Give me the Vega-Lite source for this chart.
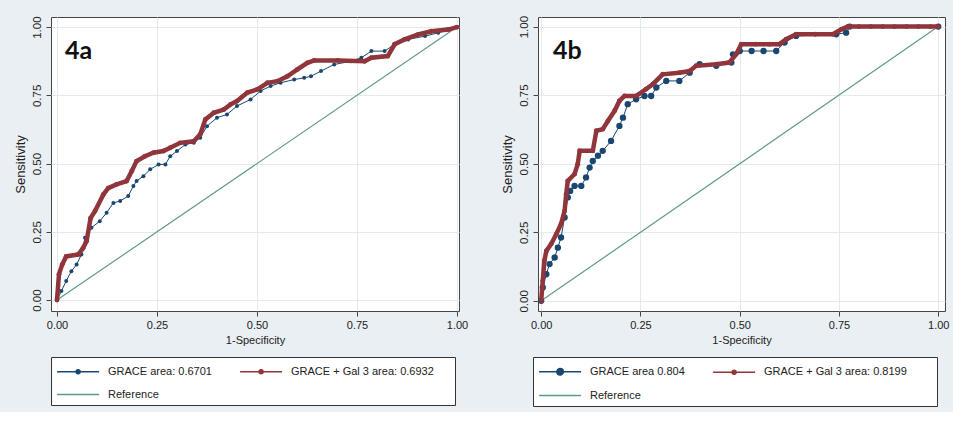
{
  "$schema": "https://vega.github.io/schema/vega-lite/v6.json",
  "background": "#e9eff2",
  "padding": {"left": 13, "top": 14, "right": 5, "bottom": 5},
  "bounds": "flush",
  "spacing": 79,
  "datasets": {
    "a": [
      {"series": "Reference", "fpr": 0, "sens": 0},
      {"series": "Reference", "fpr": 1, "sens": 1},
      {"series": "GRACE area: 0.6701", "fpr": 0, "sens": 0},
      {"series": "GRACE area: 0.6701", "fpr": 0.011, "sens": 0.033},
      {"series": "GRACE area: 0.6701", "fpr": 0.023, "sens": 0.07},
      {"series": "GRACE area: 0.6701", "fpr": 0.036, "sens": 0.106},
      {"series": "GRACE area: 0.6701", "fpr": 0.049, "sens": 0.13},
      {"series": "GRACE area: 0.6701", "fpr": 0.061, "sens": 0.167},
      {"series": "GRACE area: 0.6701", "fpr": 0.07, "sens": 0.228},
      {"series": "GRACE area: 0.6701", "fpr": 0.086, "sens": 0.265},
      {"series": "GRACE area: 0.6701", "fpr": 0.107, "sens": 0.289},
      {"series": "GRACE area: 0.6701", "fpr": 0.124, "sens": 0.32},
      {"series": "GRACE area: 0.6701", "fpr": 0.141, "sens": 0.356},
      {"series": "GRACE area: 0.6701", "fpr": 0.158, "sens": 0.363},
      {"series": "GRACE area: 0.6701", "fpr": 0.178, "sens": 0.381},
      {"series": "GRACE area: 0.6701", "fpr": 0.191, "sens": 0.418},
      {"series": "GRACE area: 0.6701", "fpr": 0.199, "sens": 0.436},
      {"series": "GRACE area: 0.6701", "fpr": 0.216, "sens": 0.454},
      {"series": "GRACE area: 0.6701", "fpr": 0.233, "sens": 0.479},
      {"series": "GRACE area: 0.6701", "fpr": 0.254, "sens": 0.497},
      {"series": "GRACE area: 0.6701", "fpr": 0.271, "sens": 0.497},
      {"series": "GRACE area: 0.6701", "fpr": 0.283, "sens": 0.527},
      {"series": "GRACE area: 0.6701", "fpr": 0.3, "sens": 0.546},
      {"series": "GRACE area: 0.6701", "fpr": 0.321, "sens": 0.57},
      {"series": "GRACE area: 0.6701", "fpr": 0.342, "sens": 0.576},
      {"series": "GRACE area: 0.6701", "fpr": 0.358, "sens": 0.595},
      {"series": "GRACE area: 0.6701", "fpr": 0.375, "sens": 0.637},
      {"series": "GRACE area: 0.6701", "fpr": 0.4, "sens": 0.668},
      {"series": "GRACE area: 0.6701", "fpr": 0.425, "sens": 0.68},
      {"series": "GRACE area: 0.6701", "fpr": 0.45, "sens": 0.711},
      {"series": "GRACE area: 0.6701", "fpr": 0.484, "sens": 0.735},
      {"series": "GRACE area: 0.6701", "fpr": 0.509, "sens": 0.766},
      {"series": "GRACE area: 0.6701", "fpr": 0.534, "sens": 0.784},
      {"series": "GRACE area: 0.6701", "fpr": 0.559, "sens": 0.796},
      {"series": "GRACE area: 0.6701", "fpr": 0.593, "sens": 0.808},
      {"series": "GRACE area: 0.6701", "fpr": 0.618, "sens": 0.814},
      {"series": "GRACE area: 0.6701", "fpr": 0.635, "sens": 0.82},
      {"series": "GRACE area: 0.6701", "fpr": 0.66, "sens": 0.839},
      {"series": "GRACE area: 0.6701", "fpr": 0.693, "sens": 0.863},
      {"series": "GRACE area: 0.6701", "fpr": 0.735, "sens": 0.875},
      {"series": "GRACE area: 0.6701", "fpr": 0.761, "sens": 0.888},
      {"series": "GRACE area: 0.6701", "fpr": 0.786, "sens": 0.912},
      {"series": "GRACE area: 0.6701", "fpr": 0.819, "sens": 0.912},
      {"series": "GRACE area: 0.6701", "fpr": 0.844, "sens": 0.937},
      {"series": "GRACE area: 0.6701", "fpr": 0.878, "sens": 0.955},
      {"series": "GRACE area: 0.6701", "fpr": 0.92, "sens": 0.967},
      {"series": "GRACE area: 0.6701", "fpr": 0.953, "sens": 0.979},
      {"series": "GRACE area: 0.6701", "fpr": 1, "sens": 1},
      {"series": "GRACE + Gal 3 area: 0.6932", "fpr": 0, "sens": 0},
      {"series": "GRACE + Gal 3 area: 0.6932", "fpr": 0.005, "sens": 0.095},
      {"series": "GRACE + Gal 3 area: 0.6932", "fpr": 0.013, "sens": 0.13},
      {"series": "GRACE + Gal 3 area: 0.6932", "fpr": 0.023, "sens": 0.16},
      {"series": "GRACE + Gal 3 area: 0.6932", "fpr": 0.053, "sens": 0.167},
      {"series": "GRACE + Gal 3 area: 0.6932", "fpr": 0.065, "sens": 0.19},
      {"series": "GRACE + Gal 3 area: 0.6932", "fpr": 0.074, "sens": 0.216},
      {"series": "GRACE + Gal 3 area: 0.6932", "fpr": 0.084, "sens": 0.3},
      {"series": "GRACE + Gal 3 area: 0.6932", "fpr": 0.095, "sens": 0.326},
      {"series": "GRACE + Gal 3 area: 0.6932", "fpr": 0.116, "sens": 0.387},
      {"series": "GRACE + Gal 3 area: 0.6932", "fpr": 0.128, "sens": 0.41},
      {"series": "GRACE + Gal 3 area: 0.6932", "fpr": 0.149, "sens": 0.424},
      {"series": "GRACE + Gal 3 area: 0.6932", "fpr": 0.174, "sens": 0.436},
      {"series": "GRACE + Gal 3 area: 0.6932", "fpr": 0.187, "sens": 0.473},
      {"series": "GRACE + Gal 3 area: 0.6932", "fpr": 0.199, "sens": 0.509},
      {"series": "GRACE + Gal 3 area: 0.6932", "fpr": 0.22, "sens": 0.527},
      {"series": "GRACE + Gal 3 area: 0.6932", "fpr": 0.241, "sens": 0.54},
      {"series": "GRACE + Gal 3 area: 0.6932", "fpr": 0.266, "sens": 0.546},
      {"series": "GRACE + Gal 3 area: 0.6932", "fpr": 0.283, "sens": 0.558},
      {"series": "GRACE + Gal 3 area: 0.6932", "fpr": 0.308, "sens": 0.576},
      {"series": "GRACE + Gal 3 area: 0.6932", "fpr": 0.342, "sens": 0.582},
      {"series": "GRACE + Gal 3 area: 0.6932", "fpr": 0.358, "sens": 0.607},
      {"series": "GRACE + Gal 3 area: 0.6932", "fpr": 0.371, "sens": 0.662},
      {"series": "GRACE + Gal 3 area: 0.6932", "fpr": 0.392, "sens": 0.686},
      {"series": "GRACE + Gal 3 area: 0.6932", "fpr": 0.417, "sens": 0.698},
      {"series": "GRACE + Gal 3 area: 0.6932", "fpr": 0.434, "sens": 0.717},
      {"series": "GRACE + Gal 3 area: 0.6932", "fpr": 0.45, "sens": 0.729},
      {"series": "GRACE + Gal 3 area: 0.6932", "fpr": 0.476, "sens": 0.76},
      {"series": "GRACE + Gal 3 area: 0.6932", "fpr": 0.501, "sens": 0.772},
      {"series": "GRACE + Gal 3 area: 0.6932", "fpr": 0.526, "sens": 0.796},
      {"series": "GRACE + Gal 3 area: 0.6932", "fpr": 0.551, "sens": 0.802},
      {"series": "GRACE + Gal 3 area: 0.6932", "fpr": 0.576, "sens": 0.82},
      {"series": "GRACE + Gal 3 area: 0.6932", "fpr": 0.601, "sens": 0.845},
      {"series": "GRACE + Gal 3 area: 0.6932", "fpr": 0.626, "sens": 0.869},
      {"series": "GRACE + Gal 3 area: 0.6932", "fpr": 0.643, "sens": 0.878},
      {"series": "GRACE + Gal 3 area: 0.6932", "fpr": 0.702, "sens": 0.878},
      {"series": "GRACE + Gal 3 area: 0.6932", "fpr": 0.769, "sens": 0.875},
      {"series": "GRACE + Gal 3 area: 0.6932", "fpr": 0.786, "sens": 0.888},
      {"series": "GRACE + Gal 3 area: 0.6932", "fpr": 0.827, "sens": 0.894},
      {"series": "GRACE + Gal 3 area: 0.6932", "fpr": 0.844, "sens": 0.937},
      {"series": "GRACE + Gal 3 area: 0.6932", "fpr": 0.869, "sens": 0.955},
      {"series": "GRACE + Gal 3 area: 0.6932", "fpr": 0.903, "sens": 0.973},
      {"series": "GRACE + Gal 3 area: 0.6932", "fpr": 0.936, "sens": 0.985},
      {"series": "GRACE + Gal 3 area: 0.6932", "fpr": 0.978, "sens": 0.991},
      {"series": "GRACE + Gal 3 area: 0.6932", "fpr": 1, "sens": 1}
    ],
    "b": [
      {"series": "Reference", "fpr": 0, "sens": 0},
      {"series": "Reference", "fpr": 1, "sens": 1},
      {"series": "GRACE area 0.804", "fpr": 0, "sens": 0},
      {"series": "GRACE area 0.804", "fpr": 0.004, "sens": 0.049},
      {"series": "GRACE area 0.804", "fpr": 0.013, "sens": 0.097},
      {"series": "GRACE area 0.804", "fpr": 0.021, "sens": 0.134},
      {"series": "GRACE area 0.804", "fpr": 0.034, "sens": 0.158},
      {"series": "GRACE area 0.804", "fpr": 0.042, "sens": 0.194},
      {"series": "GRACE area 0.804", "fpr": 0.05, "sens": 0.231},
      {"series": "GRACE area 0.804", "fpr": 0.059, "sens": 0.304},
      {"series": "GRACE area 0.804", "fpr": 0.067, "sens": 0.377},
      {"series": "GRACE area 0.804", "fpr": 0.073, "sens": 0.401},
      {"series": "GRACE area 0.804", "fpr": 0.084, "sens": 0.419},
      {"series": "GRACE area 0.804", "fpr": 0.101, "sens": 0.419},
      {"series": "GRACE area 0.804", "fpr": 0.113, "sens": 0.45},
      {"series": "GRACE area 0.804", "fpr": 0.122, "sens": 0.486},
      {"series": "GRACE area 0.804", "fpr": 0.13, "sens": 0.51},
      {"series": "GRACE area 0.804", "fpr": 0.143, "sens": 0.529},
      {"series": "GRACE area 0.804", "fpr": 0.155, "sens": 0.547},
      {"series": "GRACE area 0.804", "fpr": 0.176, "sens": 0.583},
      {"series": "GRACE area 0.804", "fpr": 0.197, "sens": 0.638},
      {"series": "GRACE area 0.804", "fpr": 0.206, "sens": 0.668},
      {"series": "GRACE area 0.804", "fpr": 0.218, "sens": 0.717},
      {"series": "GRACE area 0.804", "fpr": 0.239, "sens": 0.735},
      {"series": "GRACE area 0.804", "fpr": 0.26, "sens": 0.747},
      {"series": "GRACE area 0.804", "fpr": 0.277, "sens": 0.747},
      {"series": "GRACE area 0.804", "fpr": 0.29, "sens": 0.778},
      {"series": "GRACE area 0.804", "fpr": 0.315, "sens": 0.802},
      {"series": "GRACE area 0.804", "fpr": 0.348, "sens": 0.802},
      {"series": "GRACE area 0.804", "fpr": 0.374, "sens": 0.832},
      {"series": "GRACE area 0.804", "fpr": 0.399, "sens": 0.863},
      {"series": "GRACE area 0.804", "fpr": 0.441, "sens": 0.857},
      {"series": "GRACE area 0.804", "fpr": 0.479, "sens": 0.869},
      {"series": "GRACE area 0.804", "fpr": 0.483, "sens": 0.899},
      {"series": "GRACE area 0.804", "fpr": 0.5, "sens": 0.911},
      {"series": "GRACE area 0.804", "fpr": 0.53, "sens": 0.911},
      {"series": "GRACE area 0.804", "fpr": 0.56, "sens": 0.911},
      {"series": "GRACE area 0.804", "fpr": 0.592, "sens": 0.911},
      {"series": "GRACE area 0.804", "fpr": 0.613, "sens": 0.942},
      {"series": "GRACE area 0.804", "fpr": 0.642, "sens": 0.966},
      {"series": "GRACE area 0.804", "fpr": 0.743, "sens": 0.972},
      {"series": "GRACE area 0.804", "fpr": 0.768, "sens": 0.978},
      {"series": "GRACE area 0.804", "fpr": 0.777, "sens": 1},
      {"series": "GRACE area 0.804", "fpr": 1, "sens": 1},
      {"series": "GRACE + Gal 3 area: 0.8199", "fpr": 0, "sens": 0},
      {"series": "GRACE + Gal 3 area: 0.8199", "fpr": 0.004, "sens": 0.073},
      {"series": "GRACE + Gal 3 area: 0.8199", "fpr": 0.008, "sens": 0.146},
      {"series": "GRACE + Gal 3 area: 0.8199", "fpr": 0.013, "sens": 0.182},
      {"series": "GRACE + Gal 3 area: 0.8199", "fpr": 0.025, "sens": 0.207},
      {"series": "GRACE + Gal 3 area: 0.8199", "fpr": 0.038, "sens": 0.243},
      {"series": "GRACE + Gal 3 area: 0.8199", "fpr": 0.05, "sens": 0.28},
      {"series": "GRACE + Gal 3 area: 0.8199", "fpr": 0.059, "sens": 0.328},
      {"series": "GRACE + Gal 3 area: 0.8199", "fpr": 0.063, "sens": 0.389},
      {"series": "GRACE + Gal 3 area: 0.8199", "fpr": 0.067, "sens": 0.437},
      {"series": "GRACE + Gal 3 area: 0.8199", "fpr": 0.084, "sens": 0.462},
      {"series": "GRACE + Gal 3 area: 0.8199", "fpr": 0.092, "sens": 0.498},
      {"series": "GRACE + Gal 3 area: 0.8199", "fpr": 0.097, "sens": 0.547},
      {"series": "GRACE + Gal 3 area: 0.8199", "fpr": 0.13, "sens": 0.547},
      {"series": "GRACE + Gal 3 area: 0.8199", "fpr": 0.139, "sens": 0.62},
      {"series": "GRACE + Gal 3 area: 0.8199", "fpr": 0.155, "sens": 0.626},
      {"series": "GRACE + Gal 3 area: 0.8199", "fpr": 0.168, "sens": 0.656},
      {"series": "GRACE + Gal 3 area: 0.8199", "fpr": 0.185, "sens": 0.693},
      {"series": "GRACE + Gal 3 area: 0.8199", "fpr": 0.197, "sens": 0.729},
      {"series": "GRACE + Gal 3 area: 0.8199", "fpr": 0.21, "sens": 0.747},
      {"series": "GRACE + Gal 3 area: 0.8199", "fpr": 0.239, "sens": 0.747},
      {"series": "GRACE + Gal 3 area: 0.8199", "fpr": 0.264, "sens": 0.772},
      {"series": "GRACE + Gal 3 area: 0.8199", "fpr": 0.281, "sens": 0.79},
      {"series": "GRACE + Gal 3 area: 0.8199", "fpr": 0.306, "sens": 0.826},
      {"series": "GRACE + Gal 3 area: 0.8199", "fpr": 0.348, "sens": 0.832},
      {"series": "GRACE + Gal 3 area: 0.8199", "fpr": 0.374, "sens": 0.838},
      {"series": "GRACE + Gal 3 area: 0.8199", "fpr": 0.39, "sens": 0.857},
      {"series": "GRACE + Gal 3 area: 0.8199", "fpr": 0.441, "sens": 0.863},
      {"series": "GRACE + Gal 3 area: 0.8199", "fpr": 0.474, "sens": 0.869},
      {"series": "GRACE + Gal 3 area: 0.8199", "fpr": 0.491, "sens": 0.899},
      {"series": "GRACE + Gal 3 area: 0.8199", "fpr": 0.504, "sens": 0.936},
      {"series": "GRACE + Gal 3 area: 0.8199", "fpr": 0.54, "sens": 0.936},
      {"series": "GRACE + Gal 3 area: 0.8199", "fpr": 0.575, "sens": 0.936},
      {"series": "GRACE + Gal 3 area: 0.8199", "fpr": 0.6, "sens": 0.936},
      {"series": "GRACE + Gal 3 area: 0.8199", "fpr": 0.617, "sens": 0.954},
      {"series": "GRACE + Gal 3 area: 0.8199", "fpr": 0.642, "sens": 0.972},
      {"series": "GRACE + Gal 3 area: 0.8199", "fpr": 0.69, "sens": 0.972},
      {"series": "GRACE + Gal 3 area: 0.8199", "fpr": 0.735, "sens": 0.972},
      {"series": "GRACE + Gal 3 area: 0.8199", "fpr": 0.756, "sens": 0.99},
      {"series": "GRACE + Gal 3 area: 0.8199", "fpr": 0.772, "sens": 1},
      {"series": "GRACE + Gal 3 area: 0.8199", "fpr": 0.8, "sens": 1},
      {"series": "GRACE + Gal 3 area: 0.8199", "fpr": 0.83, "sens": 1},
      {"series": "GRACE + Gal 3 area: 0.8199", "fpr": 0.86, "sens": 1},
      {"series": "GRACE + Gal 3 area: 0.8199", "fpr": 0.89, "sens": 1},
      {"series": "GRACE + Gal 3 area: 0.8199", "fpr": 0.92, "sens": 1},
      {"series": "GRACE + Gal 3 area: 0.8199", "fpr": 0.95, "sens": 1},
      {"series": "GRACE + Gal 3 area: 0.8199", "fpr": 0.98, "sens": 1},
      {"series": "GRACE + Gal 3 area: 0.8199", "fpr": 1, "sens": 1}
    ],
    "labels": [
      {"panel": "4a", "lx": 0.02, "ly": 0.883},
      {"panel": "4b", "lx": 0.03, "ly": 0.882}
    ]
  },
  "hconcat": [
    {
      "width": 408,
      "height": 294,
      "layer": [
        {
          "data": {"name": "a"},
          "transform": [{"filter": "datum.series == 'Reference'"}],
          "mark": {"type": "line", "strokeWidth": 1.2},
          "encoding": {
            "x": {"field": "fpr", "type": "quantitative", "scale": {"domain": [-0.015, 1.005], "nice": false, "zero": false}, "axis": {"values": [0, 0.25, 0.5, 0.75, 1], "format": ".2f", "title": "1-Specificity"}},
            "y": {"field": "sens", "type": "quantitative", "scale": {"domain": [-0.04, 1.037], "nice": false, "zero": false}, "axis": {"values": [0, 0.25, 0.5, 0.75, 1], "format": ".2f", "title": "Sensitivity", "labelAngle": 270, "labelAlign": "center", "labelBaseline": "bottom", "labelFontSize": 11.5, "labelPadding": 4, "titleFontSize": 13}},
            "color": {"field": "series", "type": "nominal", "scale": {"domain": ["GRACE area: 0.6701", "GRACE + Gal 3 area: 0.6932", "Reference"], "range": ["#1a476f", "#90353b", "#5f9a84"]},
              "legend": {"orient": "none", "legendX": 0, "legendY": 340, "title": " ", "titleOrient": "right", "titlePadding": 16, "columns": 2, "direction": "horizontal", "strokeColor": "#333", "fillColor": "white", "padding": 5, "columnPadding": 25, "rowPadding": 8, "labelFontSize": 11, "labelOffset": 33, "symbolSize": 282, "symbolStrokeWidth": 1.3, "labelColor": "#222",
                "encode": {"symbols": {"update": {
                  "shape": {"signal": "datum.value == 'Reference' ? 'M-1,0H4' : 'M-1,0H4M1.75,0A0.25,0.25,0,1,1,1.25,0A0.25,0.25,0,1,1,1.75,0'"},
                  "fill": {"signal": "datum.value == 'Reference' ? 'transparent' : (indexof(datum.value, 'Gal') >= 0 ? '#90353b' : '#1a476f')"},
                  "stroke": {"signal": "datum.value == 'Reference' ? '#5f9a84' : (indexof(datum.value, 'Gal') >= 0 ? '#c98088' : '#7f9bb8')"}
                }}}}
            }
          }
        },
        {
          "data": {"name": "a"},
          "transform": [{"filter": "datum.series == 'GRACE area: 0.6701'"}],
          "mark": {"type": "line", "strokeWidth": 1, "point": {"size": 16, "filled": true, "opacity": 1}},
          "encoding": {
            "x": {"field": "fpr", "type": "quantitative"},
            "y": {"field": "sens", "type": "quantitative"},
            "color": {"field": "series", "type": "nominal"}
          }
        },
        {
          "data": {"name": "a"},
          "transform": [{"filter": "datum.series == 'GRACE + Gal 3 area: 0.6932'"}],
          "mark": {"type": "line", "strokeWidth": 4.5, "point": {"size": 24, "filled": true, "opacity": 1}},
          "encoding": {
            "x": {"field": "fpr", "type": "quantitative"},
            "y": {"field": "sens", "type": "quantitative"},
            "color": {"field": "series", "type": "nominal"}
          }
        },
        {
          "data": {"name": "labels"},
          "transform": [{"filter": "datum.panel == '4a'"}],
          "mark": {"type": "text", "align": "left", "baseline": "alphabetic", "font": "Lato", "fontWeight": "bold", "fontSize": 25, "fill": "#111"},
          "encoding": {
            "x": {"field": "lx", "type": "quantitative"},
            "y": {"field": "ly", "type": "quantitative"},
            "text": {"field": "panel", "type": "nominal"}
          }
        }
      ]
    },
    {
      "width": 407,
      "height": 294,
      "layer": [
        {
          "data": {"name": "b"},
          "transform": [{"filter": "datum.series == 'Reference'"}],
          "mark": {"type": "line", "strokeWidth": 1.2},
          "encoding": {
            "x": {"field": "fpr", "type": "quantitative", "scale": {"domain": [-0.008, 1.017], "nice": false, "zero": false}, "axis": {"values": [0, 0.25, 0.5, 0.75, 1], "format": ".2f", "title": "1-Specificity"}},
            "y": {"field": "sens", "type": "quantitative", "scale": {"domain": [-0.037, 1.035], "nice": false, "zero": false}, "axis": {"values": [0, 0.25, 0.5, 0.75, 1], "format": ".2f", "title": "Sensitivity", "labelAngle": 270, "labelAlign": "center", "labelBaseline": "bottom", "labelFontSize": 11.5, "labelPadding": 4, "titleFontSize": 13}},
            "color": {"field": "series", "type": "nominal", "scale": {"domain": ["GRACE area 0.804", "GRACE + Gal 3 area: 0.8199", "Reference"], "range": ["#1a476f", "#90353b", "#5f9a84"]},
              "legend": {"orient": "none", "legendX": -5, "legendY": 340, "title": " ", "titleOrient": "right", "titlePadding": 25, "columns": 2, "direction": "horizontal", "strokeColor": "#333", "fillColor": "white", "padding": 5, "columnPadding": 25, "rowPadding": 8, "labelFontSize": 11, "labelOffset": 33, "symbolSize": 282, "symbolStrokeWidth": 1.3, "labelColor": "#222",
                "encode": {"symbols": {"update": {
                  "shape": {"signal": "datum.value == 'Reference' ? 'M-1,0H4' : (indexof(datum.value, 'Gal') >= 0 ? 'M-1,0H4M1.75,0A0.25,0.25,0,1,1,1.25,0A0.25,0.25,0,1,1,1.75,0' : 'M-1,0H4M1.9,0A0.4,0.4,0,1,1,1.1,0A0.4,0.4,0,1,1,1.9,0')"},
                  "fill": {"signal": "datum.value == 'Reference' ? 'transparent' : (indexof(datum.value, 'Gal') >= 0 ? '#90353b' : '#1a476f')"},
                  "stroke": {"signal": "datum.value == 'Reference' ? '#5f9a84' : (indexof(datum.value, 'Gal') >= 0 ? '#c98088' : '#7f9bb8')"}
                }}}}
            }
          }
        },
        {
          "data": {"name": "b"},
          "transform": [{"filter": "datum.series == 'GRACE area 0.804'"}],
          "mark": {"type": "line", "strokeWidth": 1, "point": {"size": 40, "filled": true, "opacity": 1}},
          "encoding": {
            "x": {"field": "fpr", "type": "quantitative"},
            "y": {"field": "sens", "type": "quantitative"},
            "color": {"field": "series", "type": "nominal"}
          }
        },
        {
          "data": {"name": "b"},
          "transform": [{"filter": "datum.series == 'GRACE + Gal 3 area: 0.8199'"}],
          "mark": {"type": "line", "strokeWidth": 4.5, "point": {"size": 24, "filled": true, "opacity": 1}},
          "encoding": {
            "x": {"field": "fpr", "type": "quantitative"},
            "y": {"field": "sens", "type": "quantitative"},
            "color": {"field": "series", "type": "nominal"}
          }
        },
        {
          "data": {"name": "labels"},
          "transform": [{"filter": "datum.panel == '4b'"}],
          "mark": {"type": "text", "align": "left", "baseline": "alphabetic", "font": "Lato", "fontWeight": "bold", "fontSize": 25, "fill": "#111"},
          "encoding": {
            "x": {"field": "lx", "type": "quantitative"},
            "y": {"field": "ly", "type": "quantitative"},
            "text": {"field": "panel", "type": "nominal"}
          }
        }
      ]
    }
  ],
  "resolve": {"scale": {"color": "independent", "x": "independent", "y": "independent"}, "legend": {"color": "independent"}},
  "config": {
    "font": "Liberation Sans",
    "view": {"stroke": "#444", "strokeWidth": 1, "fill": "white"},
    "axis": {"grid": true, "gridColor": "#e3eaee", "gridWidth": 1, "domain": false, "tickColor": "#444", "tickSize": 5, "labelColor": "#222", "titleColor": "#222", "labelFontSize": 11, "titleFontSize": 11, "titleFontWeight": "normal", "labelPadding": 3, "titlePadding": 4, "labelFlush": false, "labelOverlap": false}
  }
}
